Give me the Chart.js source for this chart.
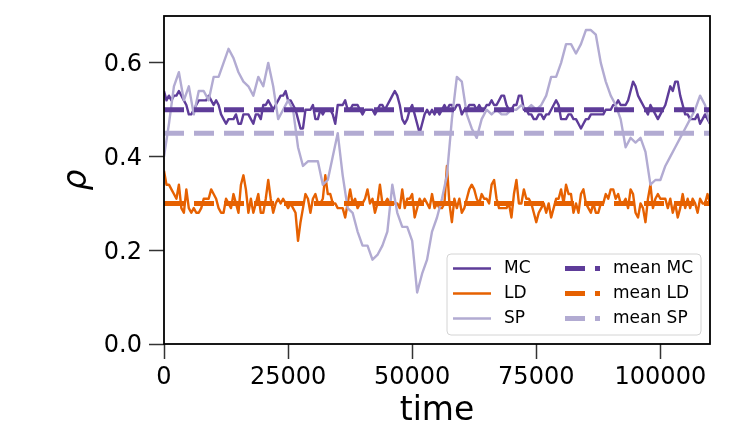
<!DOCTYPE html>
<html>
<head>
<meta charset="utf-8">
<script src="https://cdn.jsdelivr.net/npm/chart.js@4.4.0/dist/chart.umd.min.js"></script>
<style>
  html, body { margin: 0; padding: 0; background: #fff; }
  #wrap { width: 748px; height: 426px; }
</style>
</head>
<body>
<div id="wrap"><canvas id="chart" width="748" height="426"></canvas></div>
<script>
// values; MC and LD every 500 time steps, SP every 1000
const mcStep = 500;
const mc = [0.54, 0.52, 0.53, 0.52, 0.53, 0.53, 0.54, 0.53, 0.52, 0.51, 0.49, 0.49, 0.50, 0.51, 0.52, 0.52,
  0.52, 0.52, 0.53, 0.52, 0.51, 0.52, 0.51, 0.49, 0.48, 0.47, 0.48, 0.48, 0.48, 0.49, 0.47, 0.47,
  0.49, 0.49, 0.49, 0.48, 0.47, 0.49, 0.49, 0.48, 0.51, 0.51, 0.52, 0.51, 0.50, 0.51, 0.52, 0.53,
  0.53, 0.54, 0.52, 0.52, 0.51, 0.50, 0.48, 0.46,
  0.46, 0.50, 0.50, 0.50, 0.51, 0.48, 0.48, 0.50, 0.49, 0.50, 0.50, 0.50, 0.49, 0.47, 0.51, 0.51,
  0.51, 0.52, 0.50, 0.50, 0.51, 0.51, 0.51, 0.50, 0.49, 0.50, 0.50, 0.50, 0.50, 0.49, 0.50, 0.51,
  0.51, 0.50, 0.51, 0.52, 0.53, 0.54, 0.53, 0.51, 0.48, 0.47, 0.48, 0.50, 0.51, 0.49, 0.47, 0.45,
  0.47, 0.49, 0.50, 0.49, 0.50, 0.49,
  0.50, 0.49, 0.50, 0.51, 0.50, 0.51, 0.51, 0.50, 0.51, 0.51, 0.49, 0.50, 0.50, 0.51, 0.51, 0.51,
  0.50, 0.51, 0.50, 0.50, 0.51, 0.51, 0.52, 0.51, 0.51, 0.52, 0.53, 0.53, 0.51, 0.50, 0.50, 0.51,
  0.51, 0.53, 0.53, 0.50, 0.50, 0.49, 0.49, 0.48, 0.48, 0.49, 0.49, 0.48, 0.49, 0.49, 0.50, 0.51,
  0.52, 0.51, 0.48, 0.48, 0.48, 0.49,
  0.49, 0.48, 0.48, 0.47, 0.46, 0.47, 0.48, 0.48, 0.49, 0.49, 0.49, 0.49, 0.49, 0.49, 0.50, 0.50,
  0.50, 0.51, 0.51, 0.52, 0.51, 0.51, 0.51, 0.52, 0.54, 0.56, 0.55, 0.53, 0.52, 0.51, 0.50, 0.49,
  0.51, 0.50, 0.49, 0.48, 0.49, 0.50, 0.51, 0.53, 0.55, 0.54, 0.56, 0.56, 0.53, 0.51, 0.49, 0.49,
  0.48, 0.48, 0.48, 0.49, 0.47, 0.48, 0.49, 0.48, 0.47];

const ldStep = 500;
const ld = [0.37, 0.34, 0.34, 0.33, 0.32, 0.31, 0.34, 0.29, 0.28, 0.33, 0.29, 0.28, 0.29, 0.28, 0.28, 0.29,
  0.31, 0.31, 0.31, 0.33, 0.32, 0.31, 0.29, 0.28, 0.28, 0.31, 0.30, 0.29, 0.32, 0.30, 0.28, 0.34,
  0.36, 0.33, 0.28, 0.31, 0.28, 0.30, 0.32, 0.28, 0.28, 0.31, 0.35, 0.31, 0.28, 0.30, 0.31, 0.30,
  0.31, 0.30, 0.29, 0.30, 0.29, 0.28, 0.22, 0.26,
  0.29, 0.32, 0.31, 0.28, 0.31, 0.32, 0.30, 0.30, 0.31, 0.36, 0.32, 0.32, 0.30, 0.30, 0.29, 0.29,
  0.29, 0.27, 0.30, 0.33, 0.30, 0.31, 0.29, 0.30, 0.30, 0.31, 0.33, 0.30, 0.31, 0.28, 0.30, 0.34,
  0.30, 0.30, 0.31, 0.30, 0.30, 0.30, 0.30, 0.29, 0.33, 0.29, 0.31, 0.31, 0.32, 0.27, 0.29, 0.31,
  0.30, 0.31, 0.30, 0.29, 0.32, 0.29,
  0.30, 0.29, 0.29, 0.30, 0.38, 0.30, 0.26, 0.31, 0.29, 0.31, 0.28, 0.29, 0.31, 0.33, 0.34, 0.33,
  0.31, 0.30, 0.32, 0.31, 0.31, 0.30, 0.34, 0.35, 0.31, 0.29, 0.29, 0.29, 0.29, 0.30, 0.27, 0.32,
  0.35, 0.30, 0.30, 0.33, 0.31, 0.31, 0.30, 0.28, 0.26, 0.28, 0.29, 0.30, 0.28, 0.30, 0.27, 0.29,
  0.31, 0.31, 0.33, 0.30, 0.34, 0.32,
  0.32, 0.28, 0.30, 0.28, 0.32, 0.33, 0.30, 0.29, 0.28, 0.30, 0.28, 0.28, 0.30, 0.30, 0.32, 0.31,
  0.33, 0.33, 0.31, 0.32, 0.30, 0.30, 0.31, 0.29, 0.33, 0.32, 0.28, 0.27, 0.30, 0.29, 0.26, 0.31,
  0.34, 0.29, 0.31, 0.32, 0.31, 0.31, 0.31, 0.29, 0.31, 0.28, 0.30, 0.27, 0.29, 0.32, 0.29, 0.31,
  0.29, 0.31, 0.30, 0.28, 0.31, 0.30, 0.30, 0.32, 0.30];

const spStep = 1000;
const sp = [0.40, 0.47, 0.55, 0.58, 0.52, 0.55, 0.49, 0.54, 0.54, 0.52, 0.57, 0.57, 0.60, 0.63, 0.61, 0.58,
  0.56, 0.55, 0.53, 0.57, 0.55, 0.60, 0.55, 0.48, 0.50, 0.52, 0.50, 0.42, 0.38, 0.39, 0.39, 0.39,
  0.34, 0.35, 0.40, 0.45, 0.36, 0.29, 0.28, 0.24, 0.21, 0.21, 0.18, 0.19, 0.21, 0.24, 0.34, 0.28,
  0.25, 0.25, 0.22, 0.11, 0.15, 0.18, 0.24, 0.27, 0.31, 0.36, 0.48, 0.57, 0.56, 0.49, 0.46, 0.44,
  0.48, 0.50, 0.49, 0.50, 0.49, 0.49, 0.50, 0.50, 0.51, 0.50, 0.51, 0.50, 0.51, 0.53, 0.57, 0.57,
  0.60, 0.64, 0.64, 0.62, 0.64, 0.67, 0.67, 0.66, 0.60, 0.56, 0.53, 0.51, 0.48, 0.42, 0.44, 0.43,
  0.44, 0.41, 0.34, 0.35, 0.35, 0.38, 0.40, 0.42, 0.44, 0.46, 0.48, 0.50, 0.53, 0.51, 0.47];

const seriesNames = ['MC', 'LD', 'SP'];
const seriesColors = ['#5e3c99', '#e66101', '#b2abd2'];
const meanValues = [0.5, 0.3, 0.45];
const xTicks = [0, 25000, 50000, 75000, 100000];
const yTicks = [0, 0.2, 0.4, 0.6];
const xMax = 110000;
const yMax = 0.7;

const font = 'DejaVu Sans';
const dash = [20, 10];

function toPoints(vals, step) {
    return vals.map((v, i) => ({ x: i * step, y: v }));
}

const datasets = [];
[[mc, mcStep], [ld, ldStep], [sp, spStep]].forEach(([vals, step], i) => {
    datasets.push({
        label: seriesNames[i],
        data: toPoints(vals, step),
        borderColor: seriesColors[i],
        borderWidth: 2.4,
        borderJoinStyle: 'round',
        pointRadius: 0,
        tension: 0,
        order: 6 - i
    });
});
meanValues.forEach((m, i) => {
    datasets.push({
        label: 'mean ' + seriesNames[i],
        data: [{ x: 0, y: m }, { x: xMax, y: m }],
        borderColor: seriesColors[i],
        borderWidth: 5,
        borderDash: dash,
        pointRadius: 0,
        order: 3 - i
    });
});

// frame around the axes + matplotlib style legend (2 columns)
const framePlugin = {
    id: 'frame',
    afterDraw(chart) {
        const { ctx, chartArea: a } = chart;
        ctx.save();
        ctx.strokeStyle = '#000';
        ctx.lineWidth = 1.8;
        ctx.strokeRect(a.left, a.top, a.right - a.left, a.bottom - a.top);

        // legend box
        const bx = 447, by = 254, bw = 254, bh = 81, r = 4;
        ctx.beginPath();
        ctx.moveTo(bx + r, by);
        ctx.arcTo(bx + bw, by, bx + bw, by + bh, r);
        ctx.arcTo(bx + bw, by + bh, bx, by + bh, r);
        ctx.arcTo(bx, by + bh, bx, by, r);
        ctx.arcTo(bx, by, bx + bw, by, r);
        ctx.closePath();
        ctx.fillStyle = 'rgba(255,255,255,0.8)';
        ctx.fill();
        ctx.strokeStyle = '#d4d4d4';
        ctx.lineWidth = 1;
        ctx.stroke();

        ctx.font = '17px "' + font + '"';
        ctx.textBaseline = 'middle';
        ctx.textAlign = 'left';
        seriesNames.forEach((name, i) => {
            const y = 268.5 + i * 25;
            ctx.strokeStyle = seriesColors[i];
            ctx.setLineDash([]);
            ctx.lineWidth = 2.4;
            ctx.beginPath();
            ctx.moveTo(453, y);
            ctx.lineTo(491, y);
            ctx.stroke();
            ctx.fillStyle = '#000';
            ctx.fillText(name, 504, y);

            ctx.lineWidth = 5;
            ctx.setLineDash(dash);
            ctx.beginPath();
            ctx.moveTo(565, y);
            ctx.lineTo(600, y);
            ctx.stroke();
            ctx.setLineDash([]);
            ctx.fillText('mean ' + name, 613, y);
        });
        ctx.restore();
    }
};

const tickGrid = { drawOnChartArea: false, tickLength: 15, tickWidth: 1.5, tickColor: '#333' };

const config = {
    type: 'line',
    data: { datasets: datasets },
    options: {
        responsive: false,
        animation: false,
        devicePixelRatio: 1,
        layout: { padding: { left: 0, right: 38, top: 16, bottom: 0 } },
        plugins: { legend: { display: false }, tooltip: { enabled: false } },
        scales: {
            x: {
                type: 'linear',
                min: 0,
                max: xMax,
                afterFit: s => { s.height = 82; s.paddingLeft = 0; s.paddingRight = 0; },
                afterBuildTicks: s => { s.ticks = xTicks.map(v => ({ value: v })); },
                grid: tickGrid,
                border: { display: false },
                ticks: {
                    color: '#000',
                    font: { family: font, size: 24 },
                    padding: 4,
                    maxRotation: 0,
                    autoSkip: false,
                    callback: v => String(v)
                },
                title: {
                    display: true,
                    text: 'time',
                    color: '#000',
                    font: { family: font, size: 33, lineHeight: 0.9 },
                    padding: 0
                }
            },
            y: {
                min: 0,
                max: yMax,
                afterFit: s => { s.width = 164; s.paddingTop = 0; s.paddingBottom = 0; },
                afterBuildTicks: s => { s.ticks = yTicks.map(v => ({ value: v })); },
                grid: tickGrid,
                border: { display: false },
                ticks: {
                    color: '#000',
                    font: { family: font, size: 24 },
                    padding: 7,
                    labelOffset: 2,
                    autoSkip: false,
                    callback: v => v.toFixed(1)
                },
                title: {
                    display: true,
                    text: 'ρ',
                    color: '#000',
                    font: { family: font, size: 33, style: 'italic', lineHeight: 1 },
                    padding: { top: 61, bottom: 0 }
                }
            }
        }
    },
    plugins: [framePlugin]
};

new Chart(document.getElementById('chart'), config);
</script>
</body>
</html>
